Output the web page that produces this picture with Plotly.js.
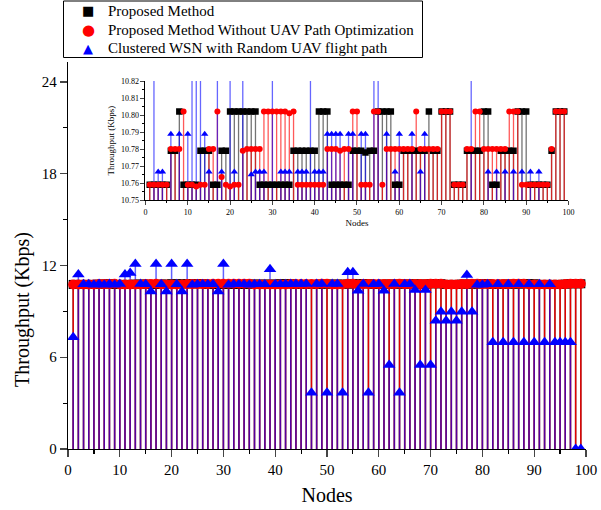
<!DOCTYPE html>
<html><head><meta charset="utf-8">
<script src="https://cdn.plot.ly/plotly-3.0.1.min.js"></script>
<style>html,body{margin:0;padding:0;background:#fff}#chart{width:601px;height:510px}</style>
</head><body><div id="chart"></div>
<script>
const nodes = [1,2,3,4,5,6,7,8,9,10,11,12,13,14,15,16,17,18,19,20,21,22,23,24,25,26,27,28,29,30,31,32,33,34,35,36,37,38,39,40,41,42,43,44,45,46,47,48,49,50,51,52,53,54,55,56,57,58,59,60,61,62,63,64,65,66,67,68,69,70,71,72,73,74,75,76,77,78,79,80,81,82,83,84,85,86,87,88,89,90,91,92,93,94,95,96,97,98,99];

const proposed = [
10.759,10.759,10.759,10.759,10.759,10.779,10.779,10.802,10.759,10.759,
10.759,10.759,10.779,10.779,10.779,10.759,10.759,10.779,10.779,10.802,
10.802,10.802,10.802,10.802,10.802,10.802,10.759,10.759,10.759,10.759,
10.759,10.759,10.759,10.759,10.779,10.779,10.779,10.779,10.779,10.779,
10.802,10.802,10.802,10.759,10.759,10.759,10.759,10.759,10.779,10.779,
10.779,10.778,10.779,10.779,10.802,10.802,10.802,10.802,10.759,10.759,
10.779,10.779,10.779,10.779,10.779,10.779,10.802,10.779,10.779,10.802,
10.802,10.802,10.759,10.759,10.759,10.779,10.779,10.779,10.779,10.802,
10.802,10.759,10.759,10.779,10.779,10.779,10.779,10.802,10.802,10.802,
10.759,10.759,10.759,10.759,10.759,10.779,10.802,10.802,10.802];

const withoutOpt = [
10.759,10.759,10.759,10.759,10.759,10.78,10.78,10.78,10.802,10.759,
10.759,10.758,10.759,10.759,10.78,10.78,10.802,10.7635,10.759,10.758,
10.759,10.759,10.779,10.78,10.78,10.78,10.78,10.802,10.802,10.802,
10.802,10.802,10.802,10.801,10.802,10.759,10.759,10.759,10.759,10.759,
10.759,10.759,10.78,10.78,10.78,10.779,10.78,10.78,10.802,10.802,
10.759,10.759,10.759,10.802,10.802,10.759,10.78,10.78,10.78,10.78,
10.78,10.78,10.78,10.802,10.78,10.78,10.78,10.78,10.78,10.802,
10.802,10.802,10.759,10.759,10.759,10.78,10.78,10.802,10.802,10.78,
10.78,10.78,10.78,10.78,10.78,10.802,10.802,10.802,10.759,10.759,
10.759,10.759,10.759,10.759,10.759,10.78,10.802,10.802,10.802];

const randomPath = [
7.3,11.4,10.7666,10.7666,10.74,10.7888,10.74,10.7888,10.74,10.7888,
11.4,11.5,12.1,10.7888,10.7666,10.3,12.1,10.7666,10.3,12.1,
10.7666,10.3,12.1,10.74,10.765,10.7666,10.7666,10.7666,10.3,12.1,
10.74,10.7666,10.7666,10.7666,10.74,10.7666,10.7666,10.7666,11.75,10.7666,
10.7666,10.7666,10.7888,10.7888,10.7888,10.7888,3.68,10.7888,10.7888,3.68,
10.7888,10.7888,3.68,11.55,11.55,10.35,10.7888,3.68,10.7666,10.7888,
10.35,5.49,10.7888,3.68,10.7666,10.7888,10.4,5.49,10.4,5.49,
8.39,8.98,8.39,8.98,8.39,8.98,11.38,8.98,10.74,10.74,
10.7666,6.98,10.7666,6.98,10.7666,6.98,10.7666,6.98,10.7666,6.98,
10.7666,6.98,10.7666,6.98,6.98,6.98,6.98,0,0];

const seriesNames = ['Proposed Method','Proposed Method Without UAV Path Optimization','Clustered WSN with Random UAV flight path'];
const seriesGlyphs = ['\u25A0', '\u25CF', '\u25B2'];
const seriesColors = ['#000000', '#ff0000', '#0000ff'];

const FONT = 'Liberation Serif, Times New Roman, serif';

function stem(vals, color, thick, xa, ya) {
  return {
    x: nodes, y: vals, type: 'scatter', mode: 'markers',
    marker: {opacity: 0, size: 1}, showlegend: false, hoverinfo: 'skip',
    xaxis: xa, yaxis: ya,
    error_y: {type: 'data', symmetric: false, array: vals.map(() => 0), arrayminus: vals.slice(),
              color: color, thickness: thick, width: 0}
  };
}
function pts(vals, name, symbol, color, size, xa, ya) {
  return {
    x: nodes, y: vals, type: 'scatter', mode: 'markers', name: name,
    marker: {symbol: symbol, color: color, size: size, line: {width: 0}},
    showlegend: false, xaxis: xa, yaxis: ya
  };
}

const data = [
  stem(proposed, 'rgba(0,0,0,0.6)', 1.5, 'x', 'y'),
  stem(withoutOpt, 'rgb(225,0,0)', 1.5, 'x', 'y'),
  stem(randomPath, 'rgba(0,0,255,0.62)', 1.5, 'x', 'y'),
  pts(proposed, seriesNames[0], 'square', seriesColors[0], 9, 'x', 'y'),
  pts(withoutOpt, seriesNames[1], 'circle', seriesColors[1], 10, 'x', 'y'),
  pts(randomPath, seriesNames[2], 'triangle-up', seriesColors[2], 11, 'x', 'y'),
  stem(proposed, 'rgba(0,0,0,0.55)', 1.3, 'x2', 'y2'),
  stem(withoutOpt, 'rgba(255,0,0,0.65)', 1.3, 'x2', 'y2'),
  stem(randomPath, 'rgba(0,0,255,0.6)', 1.3, 'x2', 'y2'),
  pts(proposed, seriesNames[0], 'square', seriesColors[0], 6.5, 'x2', 'y2'),
  pts(withoutOpt, seriesNames[1], 'circle', seriesColors[1], 6, 'x2', 'y2'),
  pts(randomPath, seriesNames[2], 'triangle-up', seriesColors[2], 6.5, 'x2', 'y2')
];

// legend built as text (paper coordinates of the plotting area: x 68..586 px, y 449..62 px)
const W = 518, H = 387, L = 68, B = 449;
const px = v => (v - L) / W;
const py = v => (B - v) / H;
const rowY = [11, 30, 48.5];
const glyphSize = [13, 15, 13];
const annotations = [];
seriesNames.forEach((n, i) => {
  annotations.push({xref: 'paper', yref: 'paper', x: px(88), y: py(rowY[i]), xanchor: 'center', yanchor: 'middle',
    text: seriesGlyphs[i], showarrow: false, font: {family: 'DejaVu Sans', size: glyphSize[i], color: seriesColors[i]}});
  annotations.push({xref: 'paper', yref: 'paper', x: px(106), y: py(rowY[i]), xanchor: 'left', yanchor: 'middle',
    text: n, showarrow: false, font: {family: FONT, size: 15, color: '#000'}});
});
// main y-axis title (placed as in the reference, below the axis centre)
annotations.push({xref: 'paper', yref: 'paper', x: px(22), y: py(310), xanchor: 'center', yanchor: 'middle',
  text: 'Throughput (Kbps)', textangle: -90, showarrow: false, font: {family: FONT, size: 20, color: '#000'}});

const layout = {
  width: 601, height: 510,
  margin: {l: 68, r: 15, t: 62, b: 61},
  paper_bgcolor: '#fff', plot_bgcolor: 'rgba(0,0,0,0)',
  font: {family: FONT, color: '#000'},
  showlegend: false,
  annotations: annotations,
  shapes: [{type: 'rect', xref: 'paper', yref: 'paper', x0: px(63.5), x1: px(422.5), y0: py(57.5), y1: py(1),
            line: {color: '#000', width: 1}, fillcolor: '#fff', layer: 'above'}],
  xaxis: {domain: [0, 1], range: [0, 100], dtick: 10, tick0: 0,
          showline: true, linecolor: '#000', linewidth: 1.3, ticks: 'outside', ticklen: 7, tickwidth: 1.3,
          minor: {dtick: 5, ticks: 'outside', ticklen: 4, tickwidth: 1.2, tickcolor: '#000'},
          showgrid: false, zeroline: false, tickfont: {size: 15, family: FONT},
          title: {text: 'Nodes', font: {size: 20, family: FONT}, standoff: 10}, anchor: 'y'},
  yaxis: {domain: [0, 1], range: [0, 25.3], dtick: 6, tick0: 0,
          showline: true, linecolor: '#000', linewidth: 1.3, ticks: 'outside', ticklen: 7, tickwidth: 1.3,
          minor: {dtick: 3, ticks: 'outside', ticklen: 4, tickwidth: 1.2, tickcolor: '#000'},
          showgrid: false, zeroline: false, tickfont: {size: 15, family: FONT}, anchor: 'x'},
  xaxis2: {domain: [0.1496, 0.9662], range: [0, 100], dtick: 10, tick0: 0, anchor: 'y2',
           showline: true, linecolor: '#000', linewidth: 1, ticks: 'outside', ticklen: 4, tickwidth: 1,
           minor: {dtick: 5, ticks: 'outside', ticklen: 2, tickwidth: 1, tickcolor: '#000'},
           showgrid: false, zeroline: false, tickfont: {size: 8, family: FONT},
           title: {text: 'Nodes', font: {size: 9, family: FONT}, standoff: 4}},
  yaxis2: {domain: [0.6434, 0.9509], range: [10.75, 10.82], dtick: 0.01, tick0: 10.75, anchor: 'x2',
           tickformat: '.2f',
           showline: true, linecolor: '#000', linewidth: 1, ticks: 'outside', ticklen: 4, tickwidth: 1,
           minor: {dtick: 0.005, ticks: 'outside', ticklen: 2, tickwidth: 1, tickcolor: '#000'},
           showgrid: false, zeroline: false, tickfont: {size: 8, family: FONT},
           title: {text: 'Throughput (Kbps)', font: {size: 9, family: FONT}, standoff: 4}}
};

Plotly.newPlot('chart', data, layout, {displayModeBar: false, staticPlot: true});
</script>
</body></html>
